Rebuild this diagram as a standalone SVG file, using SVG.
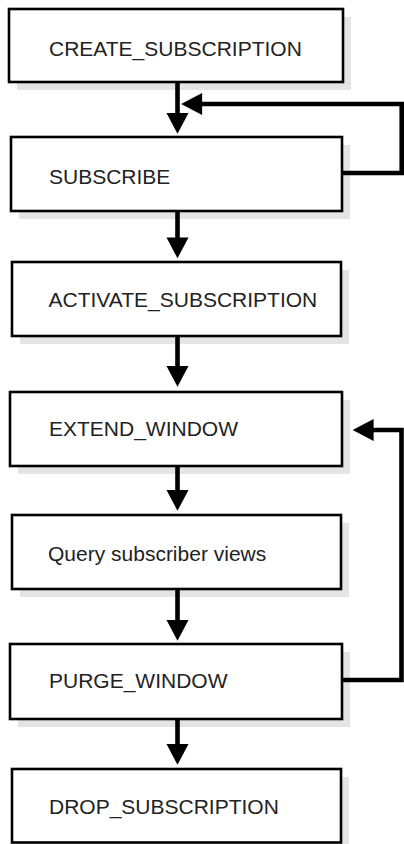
<svg xmlns="http://www.w3.org/2000/svg" width="404" height="844" viewBox="0 0 404 844">
<defs>
<style>
.shadow{fill:#e4e4e4;stroke:none}
.box{fill:#ffffff;stroke:#000000;stroke-width:2.6}
.label{font-family:"Liberation Sans",Arial,Helvetica,sans-serif;font-size:21px;fill:#222222}
.conn{fill:none;stroke:#000000;stroke-width:4.6;stroke-linejoin:miter;stroke-linecap:butt}
</style>
<marker id="ah" markerUnits="userSpaceOnUse" markerWidth="22" markerHeight="22" refX="2" refY="10.5" orient="auto" viewBox="0 0 20 21" overflow="visible">
<path d="M0,0 L20,10.5 L0,21 Z" fill="#000000"/>
</marker>
</defs>
<rect width="404" height="844" fill="#ffffff"/>

<g id="create_subscription">
<rect class="shadow" x="17" y="17" width="334" height="73"/>
<rect class="box" x="9" y="9" width="334" height="73"/>
<text class="label" x="49" y="56">CREATE_SUBSCRIPTION</text>
</g>

<g id="subscribe">
<rect class="shadow" x="19" y="145" width="331" height="74"/>
<rect class="box" x="11" y="137" width="331" height="74"/>
<text class="label" x="49" y="184">SUBSCRIBE</text>
</g>

<g id="activate_subscription">
<rect class="shadow" x="20" y="270" width="329" height="74"/>
<rect class="box" x="12" y="262" width="329" height="74"/>
<text class="label" x="48.5" y="306.5">ACTIVATE_SUBSCRIPTION</text>
</g>

<g id="extend_window">
<rect class="shadow" x="18" y="400" width="332" height="74"/>
<rect class="box" x="10" y="392" width="332" height="74"/>
<text class="label" x="49" y="435.5">EXTEND_WINDOW</text>
</g>

<g id="query_subscriber_views">
<rect class="shadow" x="20" y="523" width="329" height="74"/>
<rect class="box" x="12" y="515" width="329" height="74"/>
<text class="label" x="48" y="560.5">Query subscriber views</text>
</g>

<g id="purge_window">
<rect class="shadow" x="18" y="652" width="332" height="75"/>
<rect class="box" x="10" y="644" width="332" height="75"/>
<text class="label" x="49" y="688">PURGE_WINDOW</text>
</g>

<g id="drop_subscription">
<rect class="shadow" x="20" y="777" width="329" height="73.5"/>
<rect class="box" x="12" y="769" width="329" height="73.5"/>
<text class="label" x="49" y="814">DROP_SUBSCRIPTION</text>
</g>

<g id="connectors">
<path class="conn" marker-end="url(#ah)" d="M177.5,82 V115"/>
<path class="conn" marker-end="url(#ah)" d="M177.5,211 V239.5"/>
<path class="conn" marker-end="url(#ah)" d="M177.5,336 V368"/>
<path class="conn" marker-end="url(#ah)" d="M177.5,466 V492"/>
<path class="conn" marker-end="url(#ah)" d="M177.5,589 V622"/>
<path class="conn" marker-end="url(#ah)" d="M177.5,719 V746"/>
<path class="conn" marker-end="url(#ah)" d="M342,173 H401.7 V104 H200"/>
<path class="conn" marker-end="url(#ah)" d="M342,680 H401.5 V430 H371.5"/>
</g>
</svg>
